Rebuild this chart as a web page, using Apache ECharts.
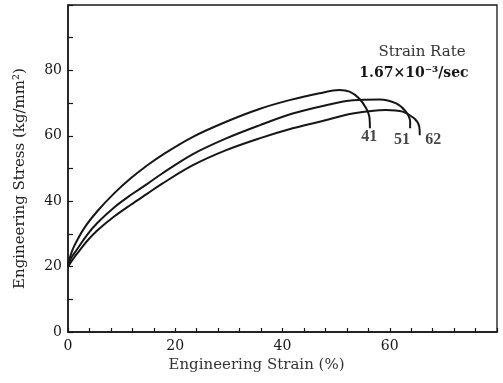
<!DOCTYPE html>
<html><head><meta charset="utf-8">
<script src="https://cdn.jsdelivr.net/npm/echarts@6/dist/echarts.min.js"></script>
<style>html,body{margin:0;padding:0;background:#fff}#c{width:503px;height:383px}</style>
</head><body><div id="c"></div>
<script>
// Curve "41"
const strain41 = [0, 0.4, 1.1, 3.0, 5.5, 8.6, 11.7, 14.8, 17.9, 23.3, 29.5, 35.7, 41.3, 46.9, 50.6, 52.5, 54.3, 55.6, 56.2, 56.3];
const stress41 = [20, 23.0, 26.1, 31.7, 37.0, 42.4, 47.0, 51.0, 54.5, 59.7, 64.3, 68.2, 70.9, 73.0, 74.0, 73.5, 71.4, 68.4, 65.8, 62.3];
// Curve "51"
const strain51 = [0, 0.5, 1.7, 3.6, 5.5, 8.6, 11.7, 14.8, 17.5, 23.3, 29.5, 35.7, 41.9, 47.5, 53.1, 58.1, 61.2, 63.0, 63.8, 63.8];
const stress51 = [20, 22.4, 25.3, 29.8, 33.4, 38.1, 41.9, 45.3, 48.4, 54.4, 59.2, 63.2, 66.8, 69.1, 70.9, 71.1, 69.9, 67.4, 64.3, 62.3];
// Curve "62"
const strain62 = [0, 0.8, 2.0, 3.6, 5.5, 8.6, 11.7, 14.8, 17.5, 23.3, 29.5, 35.7, 41.9, 46.9, 53.1, 59.3, 62.4, 64.6, 65.5, 65.6];
const stress62 = [20, 22.0, 24.6, 27.9, 31.1, 35.3, 38.9, 42.3, 45.3, 51.0, 55.6, 59.2, 62.3, 64.3, 66.8, 67.9, 67.4, 65.3, 62.8, 60.2];
// Curve labels
const curveNames = ['41', '51', '62'];
const labelStrain = [56.2, 62.3, 68.1];
const labelStress = [59.6, 58.7, 58.7];
// Axis ticks
const xTickLabels = [0, 20, 40, 60];
const yTickLabels = [0, 20, 40, 60, 80];

const zip = (xs, ys) => xs.map((x, i) => [x, ys[i]]);
const ink = '#161616';
const serif = 'DejaVu Serif';

function lineSeries(name, xs, ys) {
  return {
    name: name, type: 'line', data: zip(xs, ys), symbol: 'none',
    smooth: 0.35, lineStyle: { color: ink, width: 2 }, z: 3
  };
}

const chart = echarts.init(document.getElementById('c'), null, { renderer: 'canvas' });
chart.setOption({
  animation: false,
  backgroundColor: '#fff',
  grid: { left: 68, right: 6, top: 5, bottom: 51, show: true, borderColor: ink, borderWidth: 1.3, backgroundColor: 'transparent' },
  xAxis: {
    type: 'value', min: 0, max: 80, interval: 4,
    name: 'Engineering Strain (%)', nameLocation: 'middle', nameGap: 26,
    nameTextStyle: { fontFamily: serif, fontSize: 15, color: '#333', padding: [0, 52, 0, 0] },
    axisLine: { show: true, lineStyle: { color: ink, width: 1.5 } },
    axisTick: { show: true, inside: true, length: 4, lineStyle: { color: ink, width: 1.2 } },
    axisLabel: {
      fontFamily: serif, fontSize: 14, color: ink, margin: 7,
      formatter: v => xTickLabels.includes(v) ? String(v) : ''
    },
    splitLine: { show: false }
  },
  yAxis: {
    type: 'value', min: 0, max: 100, interval: 10,
    name: 'Engineering Stress (kg/mm²)', nameLocation: 'middle', nameGap: 40,
    nameTextStyle: { fontFamily: serif, fontSize: 15, color: '#222', padding: [0, 20, 0, 0] },
    axisLine: { show: true, lineStyle: { color: ink, width: 1.5 } },
    axisTick: { show: true, inside: true, length: 5, lineStyle: { color: ink, width: 1.2 } },
    axisLabel: {
      fontFamily: serif, fontSize: 14, color: ink, margin: 6,
      formatter: v => yTickLabels.includes(v) ? String(v) : ''
    },
    splitLine: { show: false }
  },
  series: [
    lineSeries('41', strain41, stress41),
    lineSeries('51', strain51, stress51),
    lineSeries('62', strain62, stress62),
    {
      type: 'scatter', symbolSize: 1, itemStyle: { color: 'rgba(0,0,0,0)' },
      data: curveNames.map((n, i) => [labelStrain[i], labelStress[i], n]),
      label: {
        show: true, position: 'inside', formatter: p => p.value[2],
        fontFamily: 'Liberation Serif', fontWeight: 'bold', fontSize: 16, color: ink
      }
    }
  ],
  graphic: [
    { type: 'text', x: 422, y: 52, style: { text: 'Strain Rate', font: '15px "DejaVu Serif"', fill: '#333', align: 'center', verticalAlign: 'middle' } },
    { type: 'text', x: 414, y: 73, style: { text: '1.67×10⁻³/sec', font: 'bold 14px "DejaVu Serif"', fill: ink, align: 'center', verticalAlign: 'middle' } }
  ]
});
</script>
</body></html>
